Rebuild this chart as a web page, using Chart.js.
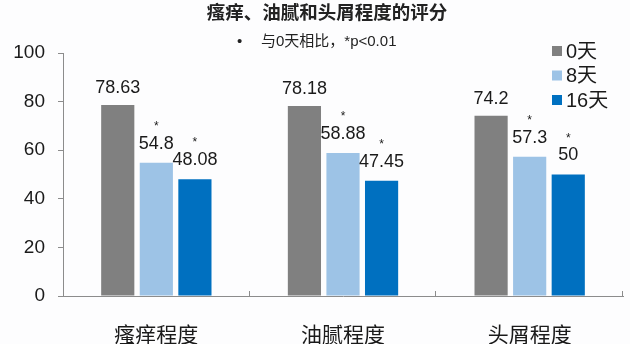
<!DOCTYPE html>
<html>
<head>
<meta charset="utf-8">
<script src="https://cdn.jsdelivr.net/npm/chart.js@4.4.1/dist/chart.umd.min.js"></script>
<style>
  html, body { margin: 0; padding: 0; background: #fdfdfe; }
  #wrap { width: 630px; height: 344px; }
</style>
</head>
<body>
<div id="wrap"><canvas id="scoreChart" width="630" height="344"></canvas></div>
<script>
// data
var categories = ['瘙痒程度', '油腻程度', '头屑程度'];
var seriesNames = ['0天', '8天', '16天'];
var day0 = [78.63, 78.18, 74.2];
var day8 = [54.8, 58.88, 57.3];
var day16 = [48.08, 47.45, 50];
var starred = [false, true, true]; // *p<0.01 vs day 0
var yTicks = [0, 20, 40, 60, 80, 100];

var colors = ['#808080', '#9dc3e6', '#0070c0'];
var numFont = "'Liberation Sans', Arial, 'Noto Sans CJK SC', sans-serif";
var cjkFont = "'Liberation Sans', Arial, 'Noto Sans CJK SC', sans-serif";

var extras = {
    id: 'extras',
    afterDatasetsDraw: function (chart) {
        var ctx = chart.ctx;
        var x = chart.scales.x;
        var area = chart.chartArea;
        ctx.save();

        // short upward tick marks between categories
        ctx.strokeStyle = '#8c8c8c';
        ctx.lineWidth = 1;
        var step = (area.right - area.left) / categories.length;
        for (var i = 1; i <= categories.length; i++) {
            var px = Math.round(x.getPixelForValue(i - 1) + step / 2) - 0.5;
            ctx.beginPath();
            ctx.moveTo(px, area.bottom);
            ctx.lineTo(px, area.bottom - 5);
            ctx.stroke();
        }

        // value labels and asterisks
        ctx.fillStyle = '#1a1a1a';
        ctx.textAlign = 'center';
        ctx.textBaseline = 'middle';
        chart.data.datasets.forEach(function (ds, di) {
            var meta = chart.getDatasetMeta(di);
            meta.data.forEach(function (bar, i) {
                var off = di === 0 ? 17 : 19;
                ctx.font = '18px ' + numFont;
                ctx.fillText(String(ds.data[i]), bar.x, bar.y - off);
                if (starred[di]) {
                    ctx.font = '12px ' + numFont;
                    ctx.fillText('*', bar.x, bar.y - 36);
                }
            });
        });

        // title and note
        ctx.font = 'bold 18.5px ' + cjkFont;
        ctx.fillStyle = '#222';
        ctx.fillText('瘙痒、油腻和头屑程度的评分', 327, 14);
        ctx.font = '15px ' + cjkFont;
        ctx.textAlign = 'left';
        ctx.fillText('•', 237, 42);
        ctx.fillText('与0天相比，*p<0.01', 261, 42);

        // legend
        ctx.font = '20px ' + cjkFont;
        seriesNames.forEach(function (name, k) {
            var ly = 51 + k * 24.5;
            ctx.fillStyle = colors[k];
            ctx.fillRect(552, ly - 5, 10, 10);
            ctx.fillStyle = '#1a1a1a';
            ctx.fillText(name, 566, ly + 1);
        });
        ctx.restore();
    }
};

new Chart(document.getElementById('scoreChart').getContext('2d'), {
    type: 'bar',
    data: {
        labels: categories,
        datasets: [
            { label: seriesNames[0], data: day0, backgroundColor: colors[0] },
            { label: seriesNames[1], data: day8, backgroundColor: colors[1] },
            { label: seriesNames[2], data: day16, backgroundColor: colors[2] }
        ]
    },
    options: {
        responsive: false,
        animation: false,
        categoryPercentage: 0.62,
        barPercentage: 0.86,
        layout: { padding: { left: 0, right: 7, top: 53, bottom: 0 } },
        plugins: { legend: { display: false }, title: { display: false }, tooltip: { enabled: false } },
        scales: {
            x: {
                grid: { display: false },
                border: { color: '#8c8c8c', width: 1 },
                ticks: { color: '#1a1a1a', padding: 20, font: { size: 21, family: cjkFont } },
                afterFit: function (s) { s.height = 48; }
            },
            y: {
                min: 0,
                max: 100,
                afterBuildTicks: function (s) { s.ticks = yTicks.map(function (v) { return { value: v }; }); },
                grid: { drawOnChartArea: false, drawTicks: true, tickLength: 5, color: '#8c8c8c' },
                border: { color: '#8c8c8c', width: 1 },
                ticks: { color: '#1a1a1a', padding: 13, font: { size: 19, family: numFont } },
                afterFit: function (s) { s.width = 63; }
            }
        }
    },
    plugins: [extras]
});
</script>
</body>
</html>
